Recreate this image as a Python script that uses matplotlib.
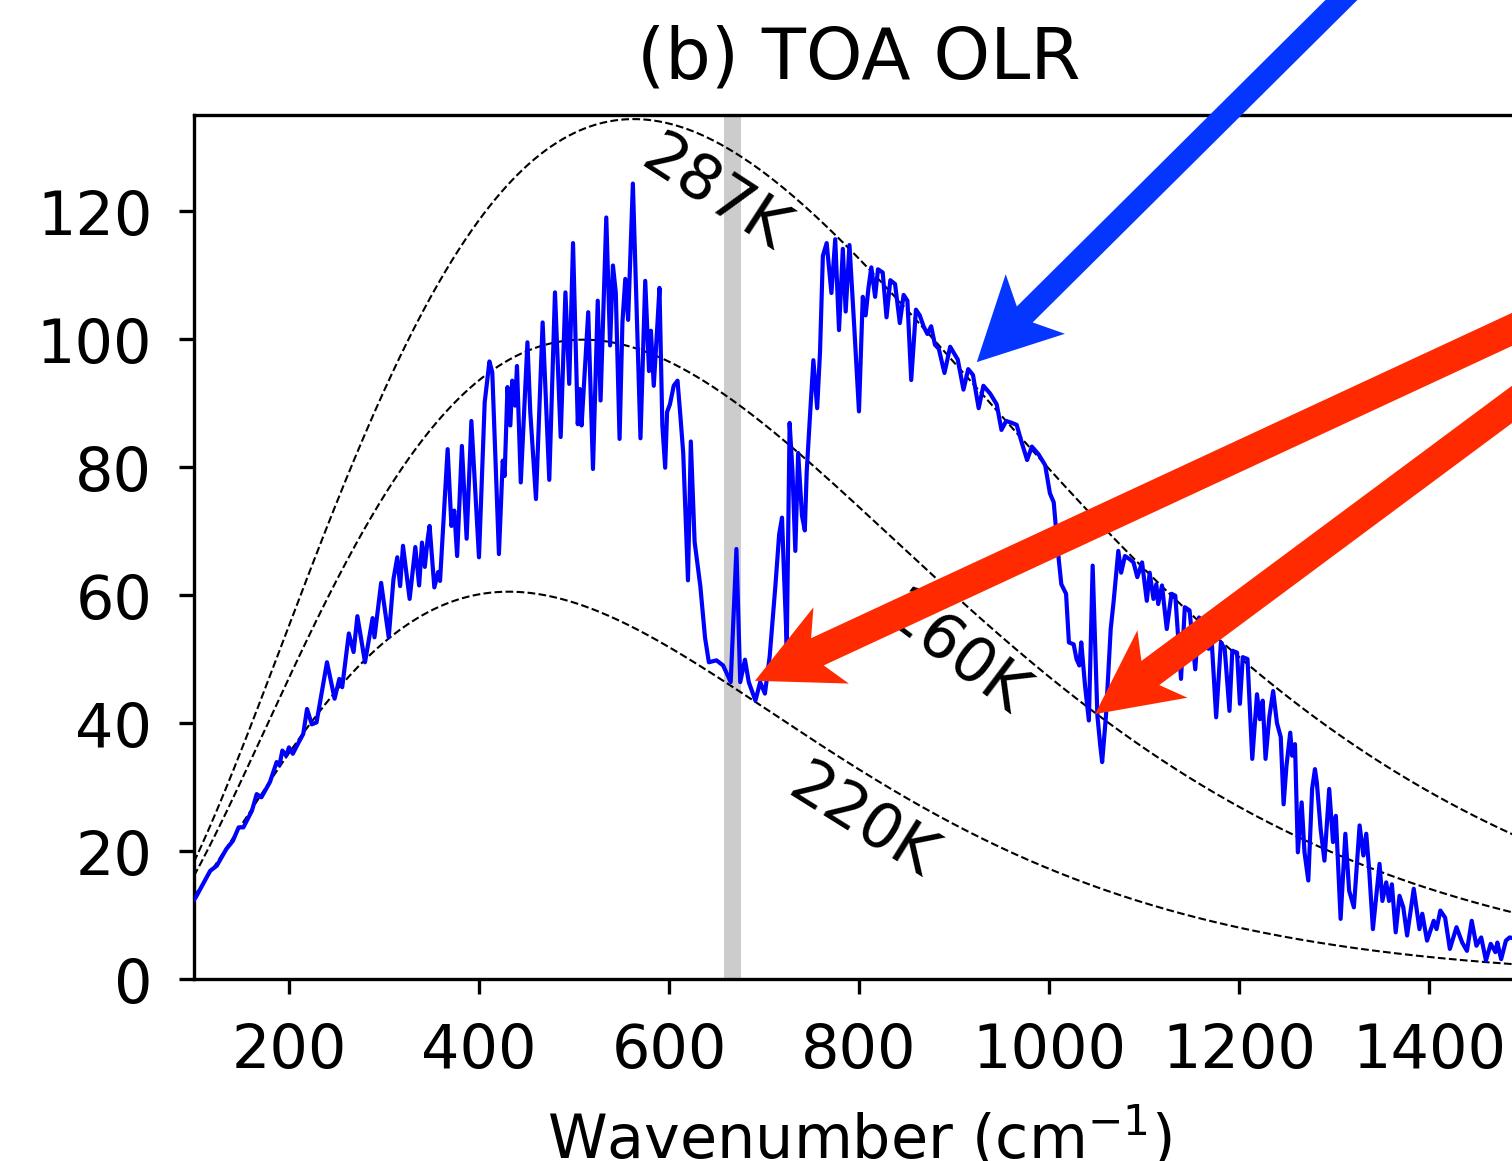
import numpy as np
import matplotlib
matplotlib.use("Agg")
import matplotlib.pyplot as plt
from matplotlib.patches import FancyArrow


# spectrum (wavenumber in cm^-1, radiance in mW m^-2 sr^-1 (cm^-1)^-1)
WAVENUMBER = [
    100, 102, 117, 124, 134, 141, 147, 152, 161, 166, 171, 180, 187, 190, 193, 197, 200, 204, 211, 215,
    219, 224, 229, 240, 248, 253, 256, 263, 268, 272, 280, 288, 290, 297, 305, 310, 314, 317, 320,
    327, 333, 337, 340, 343, 346, 348, 353, 357, 359, 367, 371, 374, 377, 382, 387, 392, 400, 406, 411,
    414, 421, 425, 427, 430, 433, 435, 438, 440, 444, 447, 451, 454, 460, 467, 474, 480, 486, 491, 495,
    499, 504, 506, 508, 515, 520, 525, 528, 534, 538, 541, 544, 548, 551, 554, 557, 562,
    570, 575, 579, 581, 584, 587, 590, 593, 596, 598, 601, 605, 609, 612, 615, 620, 623, 627, 633, 638,
    642, 650, 657, 665, 671, 675, 680, 684, 691, 696, 701, 706, 712, 716, 719, 721, 724, 727, 730, 733,
    736, 740, 743, 745, 748, 752, 756, 759,
    762, 766, 771, 775, 779, 783, 786, 790, 795, 800, 804, 807, 810, 813, 817, 820, 825, 829, 833, 838,
    843, 847, 851, 855, 860, 864, 868, 872, 876, 880, 884, 890, 896, 904, 910, 915, 920, 926, 931, 938,
    945, 950, 955, 961, 966, 971, 977, 982, 989, 996, 1001, 1005, 1010,
    1013, 1018, 1021, 1026, 1029, 1032, 1034, 1038, 1042, 1046, 1051, 1054, 1056, 1060, 1065, 1068, 1073,
    1076, 1080, 1085, 1089, 1093, 1098, 1103, 1106, 1110, 1113, 1115, 1119, 1124, 1129, 1133, 1139, 1143,
    1148, 1154, 1158, 1162, 1168, 1171, 1176, 1181, 1185, 1190, 1193, 1198, 1201, 1204, 1209, 1214, 1219, 1222,
    1225, 1228, 1232, 1236, 1240, 1244, 1247, 1250, 1254, 1256, 1259, 1262, 1266, 1269, 1273, 1277, 1280,
    1282, 1286, 1290, 1295, 1299, 1302, 1307, 1312, 1316, 1321, 1327, 1331, 1334, 1337, 1341, 1348, 1351,
    1355, 1358, 1361, 1365, 1369, 1373, 1377, 1384, 1390, 1393, 1398, 1405, 1408, 1412, 1417, 1422, 1429,
    1435, 1440, 1445, 1450, 1455, 1460, 1465, 1470, 1472, 1476, 1481, 1485, 1500,
]

OLR = [
    12.4, 12.8, 16.9, 17.7, 20.3, 21.6, 23.7, 23.7, 26.3, 28.9, 28.4, 30.8, 33.9, 33.4, 35.7, 34.9, 36.2, 35.2, 37.2, 38.3,
    42.2, 39.8, 40.1, 49.5, 43.8, 46.9, 45.6, 54.0, 51.1, 56.7, 49.5, 56.4, 53.4, 61.9, 53.4, 62.5, 65.9, 61.4, 67.7,
    59.4, 67.5, 61.5, 68.2, 64.4, 68.8, 70.8, 61.2, 63.6, 62.2, 82.8, 70.8, 73.2, 66.1, 83.3, 68.8, 87.2, 65.9, 90.1, 96.5,
    94.8, 66.4, 81.0, 78.6, 92.5, 86.5, 93.5, 89.6, 95.8, 77.6, 87.0, 99.5, 88.6, 75.0, 102.6, 78.0, 107.3, 84.7, 107.3, 93.0,
    115.0, 86.7, 92.2, 86.5, 104.2, 79.7, 106.0, 90.4, 119.0, 99.0, 111.5, 107.3, 84.4, 102.6, 109.4, 103.0, 124.3,
    84.5, 109.1, 95.0, 101.3, 92.7, 100.2, 108.0, 86.6, 79.9, 88.6, 89.8, 92.7, 93.5, 88.0, 82.2, 62.3, 84.0, 68.3, 61.4, 53.3,
    49.5, 49.8, 49.0, 46.4, 67.2, 46.4, 49.9, 46.4, 43.5, 46.4, 44.6, 50.4, 61.4, 69.5, 72.1, 63.7, 52.1, 86.9, 79.3, 66.9,
    82.2, 72.4, 70.1, 79.3, 86.9, 96.7, 89.2, 98.0,
    113.0, 115.0, 107.2, 115.6, 101.4, 114.1, 104.3, 114.7, 102.0, 88.7, 106.6, 103.7, 108.0, 111.2, 106.6, 110.9, 110.4, 103.4, 109.2, 108.6,
    102.5, 106.9, 106.0, 93.6, 104.6, 103.7, 102.0, 100.8, 102.0, 99.1, 98.5, 94.7, 98.8, 96.8, 92.1, 95.3, 94.4, 89.2, 92.7, 91.5,
    89.8, 85.8, 87.2, 86.9, 86.6, 84.0, 81.1, 83.2, 82.0, 80.3, 75.9, 74.5, 66.0,
    61.7, 60.2, 52.6, 52.3, 50.0, 49.0, 52.6, 45.8, 40.4, 64.6, 41.1, 36.5, 33.9, 41.1, 54.7, 58.9, 66.9,
    63.5, 66.1, 65.6, 65.1, 62.8, 65.1, 59.1, 63.5, 59.4, 61.7, 58.6, 61.5, 54.7, 60.2, 59.9, 46.9, 58.1,
    57.6, 48.4, 56.5, 55.7, 51.6, 53.6, 40.9, 52.6, 51.6, 41.9, 51.3, 51.0, 43.0, 50.3, 50.0, 34.4, 44.5, 40.6,
    43.5, 34.4, 41.0, 45.0, 40.0, 37.8, 27.3, 33.3, 38.5, 34.9, 36.7, 19.8, 27.6, 19.8, 15.4, 29.7, 32.8,
    30.7, 23.4, 18.5, 29.7, 21.4, 25.5, 9.4, 22.7, 13.8, 11.2, 24.0, 19.3, 22.7, 17.2, 7.8, 18.0, 12.2,
    15.1, 12.2, 14.8, 7.3, 13.0, 11.2, 6.8, 14.1, 7.8, 10.2, 6.0, 9.1, 7.8, 10.7, 9.6, 4.7, 8.1,
    5.7, 4.4, 9.1, 5.2, 6.5, 2.9, 5.5, 4.2, 5.7, 3.1, 6.0, 6.5, 6.0,
]

# blackbody reference temperatures and where their labels sit
TEMPS = [287, 260, 220]
TEMP_LABELS = ["287K", "260K", "220K"]
LABEL_POS = [(648, 122.7), (901, 50.8), (803, 24.7)]
LABEL_ROT = [-33, -37, -32]

BAND = (658, 676)  # CO2 Q-branch marker

# arrow heads (data coords) and direction the tail comes from (deg)
ARROW_HEADS = [(924, 96.4), (690.5, 46.6), (1048.5, 41.4)]
ARROW_ANGLES = [44.8, 24.9, 36.6]
ARROW_COLORS = ["#0536ff", "#ff2a00", "#ff2a00"]


def planck(nu, T):
    # mW / (m^2 sr cm^-1)
    c1 = 1.191042e-5
    c2 = 1.4387770
    return c1 * nu**3 / (np.exp(c2 * nu / T) - 1.0)


def add_arrow(fig, ax, head, angle, color, width, head_width, head_length, length=3.0):
    to_in = ax.transData + fig.dpi_scale_trans.inverted()
    hx, hy = to_in.transform(head)
    a = np.deg2rad(angle)
    tx, ty = hx + length * np.cos(a), hy + length * np.sin(a)
    arr = FancyArrow(
        tx, ty, hx - tx, hy - ty,
        width=width,
        head_width=head_width,
        head_length=head_length,
        length_includes_head=True,
        overhang=0.18,
        transform=fig.dpi_scale_trans,
        facecolor=color,
        edgecolor="none",
        zorder=10,
    )
    fig.add_artist(arr)


def main():
    fig = plt.figure(figsize=(5.04, 3.8733), dpi=300)
    ax = fig.add_axes([0.1283, 0.1566, 0.8796, 0.7435])

    ax.axvspan(BAND[0], BAND[1], color="#cccccc", lw=0, zorder=1)

    nu = np.linspace(100, 1500, 700)
    for T in TEMPS:
        ax.plot(nu, planck(nu, T), color="k", ls="--", lw=0.5, zorder=2)

    ax.plot(WAVENUMBER, OLR, color="#0000ff", lw=1.0, zorder=3)

    for lab, (x, y), rot in zip(TEMP_LABELS, LABEL_POS, LABEL_ROT):
        ax.text(x, y, lab, rotation=rot, ha="center", va="center",
                fontsize=15, rotation_mode="anchor", zorder=4)

    ax.set_xlim(100, 1500)
    ax.set_ylim(0, 135)
    ax.set_xticks([200, 400, 600, 800, 1000, 1200, 1400])
    ax.set_yticks([0, 20, 40, 60, 80, 100, 120])
    ax.tick_params(labelsize=14.5, pad=6.5)
    ax.set_xlabel("Wavenumber (cm$^{-1}$)", fontsize=14.5, labelpad=6)
    ax.set_title("(b) TOA OLR", fontsize=17.3, pad=9)

    add_arrow(fig, ax, ARROW_HEADS[0], ARROW_ANGLES[0], ARROW_COLORS[0],
              width=0.075, head_width=0.28, head_length=0.275)
    add_arrow(fig, ax, ARROW_HEADS[1], ARROW_ANGLES[1], ARROW_COLORS[1],
              width=0.1, head_width=0.28, head_length=0.28)
    add_arrow(fig, ax, ARROW_HEADS[2], ARROW_ANGLES[2], ARROW_COLORS[2],
              width=0.1, head_width=0.28, head_length=0.28)

    fig.savefig("out.png", dpi=300)


if __name__ == "__main__":
    main()
